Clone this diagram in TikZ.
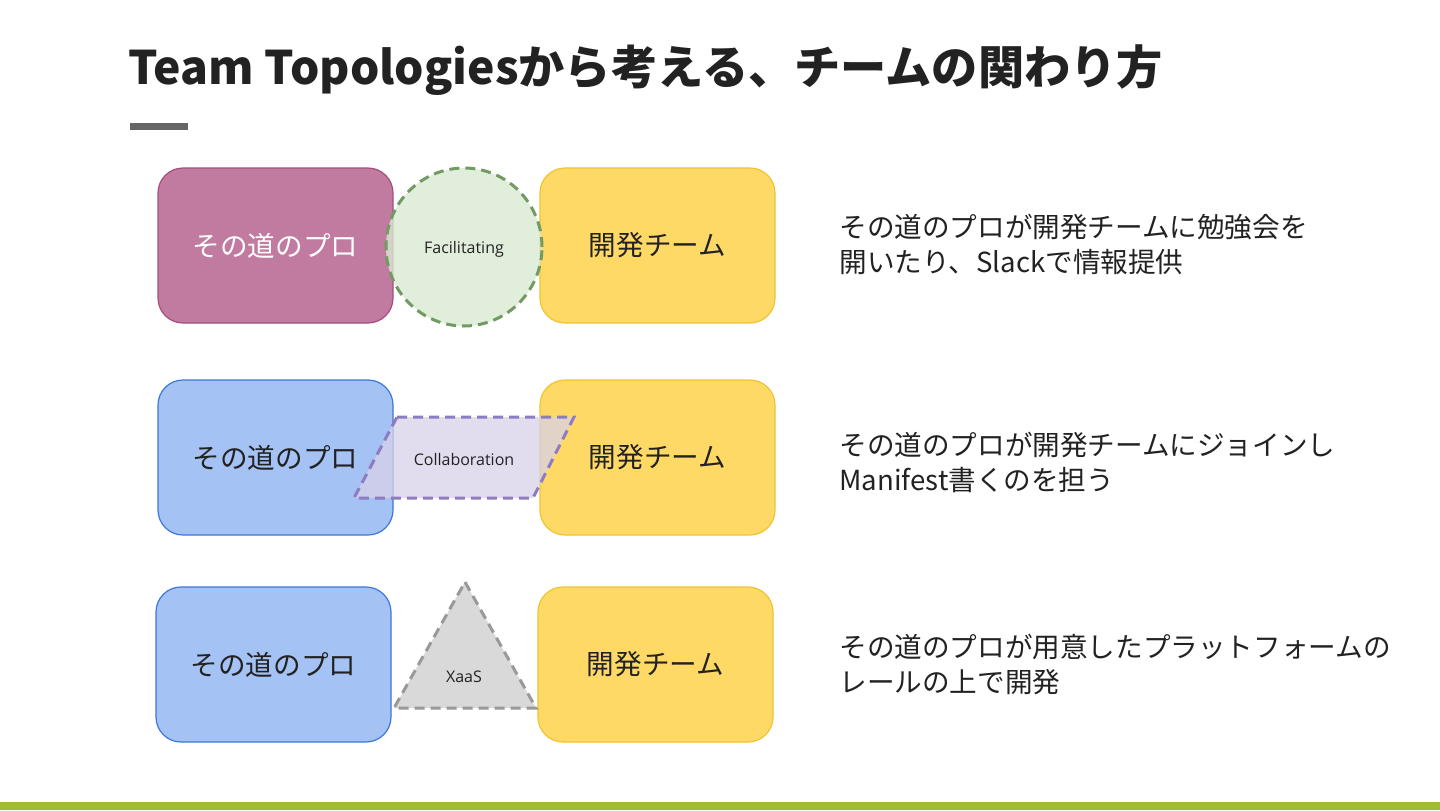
\documentclass[tikz,border=0pt]{standalone}
\usepackage{fontspec}
\setmainfont{Noto Sans CJK JP}
\newfontfamily\labelfont{Open Sans}
\usetikzlibrary{shapes.geometric}
\definecolor{pinkfill}{HTML}{C27BA0}
\definecolor{pinkline}{HTML}{A64D79}
\definecolor{bluefill}{HTML}{A4C2F4}
\definecolor{blueline}{HTML}{3C78D8}
\definecolor{yelfill}{HTML}{FFD966}
\definecolor{yelline}{HTML}{F1C232}
\definecolor{grnfill}{HTML}{D9EAD3}
\definecolor{grnline}{HTML}{739A63}
\definecolor{purfill}{HTML}{D9D2E9}
\definecolor{purline}{HTML}{8E7CC3}
\definecolor{gryfill}{HTML}{D9D9D9}
\definecolor{gryline}{HTML}{999999}
\definecolor{txt}{HTML}{222222}
\definecolor{barcol}{HTML}{A0BC34}
\tikzset{
  teambox/.style={rectangle, rounded corners=12.5pt, minimum width=117.5pt, minimum height=77.5pt, line width=0.6pt, inner sep=0pt, font=\fontsize{13.8}{16}\selectfont, text=txt},
  probox/.style={teambox, fill=bluefill, draw=blueline},
  devbox/.style={teambox, fill=yelfill, draw=yelline},
  dashline/.style={line width=1.5pt, dash pattern=on 5pt off 3pt},
  smalllabel/.style={font=\labelfont\fontsize{8}{9}\selectfont, text=txt, inner sep=0pt},
  desc/.style={anchor=west, align=left, font=\fontsize{13.8}{17.5}\selectfont, text=txt, inner sep=0pt},
}
\begin{document}
\begin{tikzpicture}[x=0.5pt, y=-0.5pt]
\useasboundingbox (0,0) rectangle (1440,810);
\fill[white] (0,0) rectangle (1440,810);
% title
\node[anchor=west, inner sep=0pt, text=txt, font=\bfseries\fontsize{23.1}{28}\selectfont] (title) at (128,70) {Team Topologiesから考える、チームの関わり方};
\fill[black!60] (130,123) rectangle (188,130);
\fill[barcol] (0,802) rectangle (1440,810);

% row 1
\node[teambox, fill=pinkfill, draw=pinkline, text=white] (pro1) at (275.5,245.5) {その道のプロ};
\node[devbox] (dev1) at (657.5,245.5) {開発チーム};
\node[ellipse, draw=grnline, fill=grnfill, fill opacity=0.8, dashline, minimum width=78pt, minimum height=79pt, inner sep=0pt] (fac) at (464,247) {};
\node[smalllabel] (facl) at (464,249) {Facilitating};

% row 2
\node[probox] (pro2) at (275.5,457.5) {その道のプロ};
\node[devbox] (dev2) at (657.5,457.5) {開発チーム};
\coordinate (c1) at (397,417);
\coordinate (c2) at (574,417);
\coordinate (c3) at (533,498);
\coordinate (c4) at (354,498);
\filldraw[draw=purline, fill=purfill, fill opacity=0.75, dashline, line join=miter] (c1) -- (c2) -- (c3) -- (c4) -- cycle;
\node[smalllabel] (coll) at (464,459) {Collaboration};

% row 3
\node[probox] (pro3) at (273.5,664.5) {その道のプロ};
\node[devbox] (dev3) at (655.5,664.5) {開発チーム};
\coordinate (t1) at (465,582);
\coordinate (t2) at (536,708);
\coordinate (t3) at (394,708);
\filldraw[draw=gryline, fill=gryfill, dashline, line join=miter] (t1) -- (t2) -- (t3) -- cycle;
\node[smalllabel] (xaas) at (464,677) {XaaS};

% descriptions
\node[desc] (d1) at (839,244.5) {その道のプロが開発チームに勉強会を\\開いたり、Slackで情報提供};
\node[desc] (d2) at (839,462) {その道のプロが開発チームにジョインし\\Manifest書くのを担う};
\node[desc] (d3) at (839,664) {その道のプロが用意したプラットフォームの\\レールの上で開発};
\end{tikzpicture}
\end{document}
